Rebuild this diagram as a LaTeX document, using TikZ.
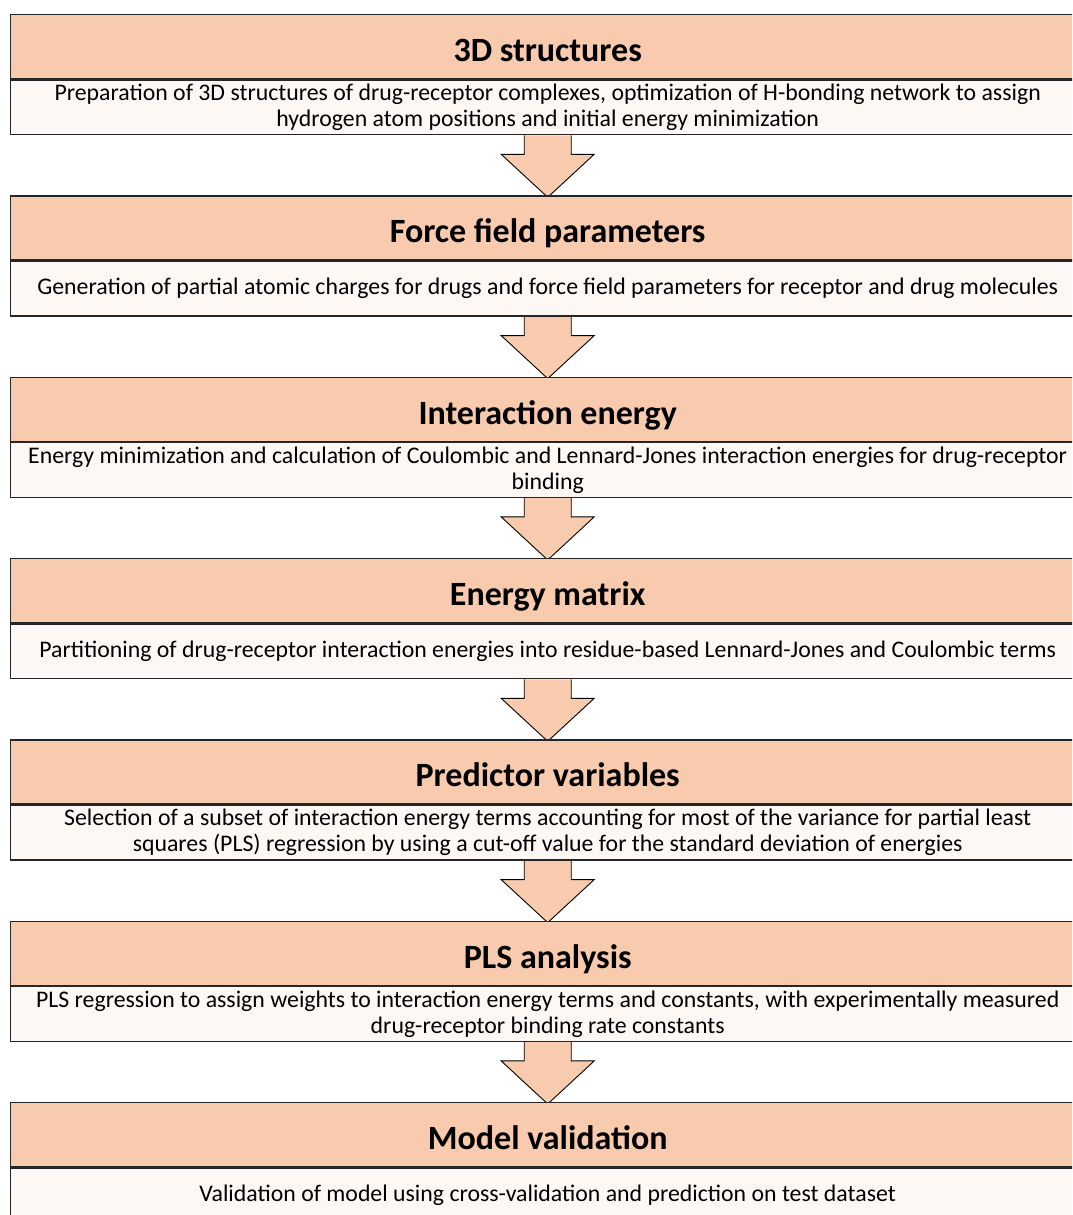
\documentclass[tikz,border=0pt]{standalone}
\usepackage{fontspec}
\setmainfont{Carlito}
\usetikzlibrary{calc,backgrounds}
\definecolor{hdr}{RGB}{249,203,174}
\definecolor{bdy}{RGB}{254,248,245}
\begin{document}
\begin{tikzpicture}[x=1pt,y=-1pt,
  hdrbox/.style={draw=black!85, line width=1.4pt, fill=hdr, minimum width=1074pt,
    minimum height=64pt, anchor=north west, inner sep=0pt,
    text height=34pt, text depth=4.5pt, font=\fontsize{34}{40}\selectfont\bfseries},
  bdybox/.style={draw=black!85, line width=1.4pt, fill=bdy, minimum width=1074pt,
    minimum height=54.5pt, anchor=north west, inner sep=0pt, align=center,
    font=\fontsize{23.8}{26}\selectfont},
  flowarrow/.style={draw=black, line width=0.9pt, fill=hdr, line join=miter}]
\useasboundingbox (0,0) rectangle (1072,1215);
\clip (0,0) rectangle (1072,1215);

\node[hdrbox] (h1) at (10,14) {3D structures};
\node[bdybox] (b1) at (h1.south west) {Preparation of 3D structures of drug-receptor complexes, optimization of H-bonding network to assign\\hydrogen atom positions and initial energy minimization};

\node[hdrbox] (h2) at (10,195.3) {Force field parameters};
\node[bdybox] (b2) at (h2.south west) {Generation of partial atomic charges for drugs and force field parameters for receptor and drug molecules};

\node[hdrbox] (h3) at (10,376.6) {Interaction energy};
\node[bdybox] (b3) at (h3.south west) {Energy minimization and calculation of Coulombic and Lennard-Jones interaction energies for drug-receptor\\binding};

\node[hdrbox] (h4) at (10,558) {Energy matrix};
\node[bdybox] (b4) at (h4.south west) {Partitioning of drug-receptor interaction energies into residue-based Lennard-Jones and Coulombic terms};

\node[hdrbox] (h5) at (10,739.3) {Predictor variables};
\node[bdybox] (b5) at (h5.south west) {Selection of a subset of interaction energy terms accounting for most of the variance for partial least\\squares (PLS) regression by using a cut-off value for the standard deviation of energies};

\node[hdrbox] (h6) at (10,920.6) {PLS analysis};
\node[bdybox] (b6) at (h6.south west) {PLS regression to assign weights to interaction energy terms and constants, with experimentally measured\\drug-receptor binding rate constants};

\node[hdrbox] (h7) at (10,1102) {Model validation};
\node[bdybox] (b7) at (h7.south west) {Validation of model using cross-validation and prediction on test dataset};

\begin{scope}[on background layer]
\foreach \a/\b in {b1/h2,b2/h3,b3/h4,b4/h5,b5/h6,b6/h7}{
  \draw[flowarrow] ($(\a.south)+(-23.5,0)$) -- ++(0,19) -- ++(-23,0)
    -- ($(\b.north)+(0,2)$) -- ($(\a.south)+(46.5,19)$) -- ++(-23,0) -- ++(0,-19);
}
\end{scope}
\end{tikzpicture}
\end{document}
